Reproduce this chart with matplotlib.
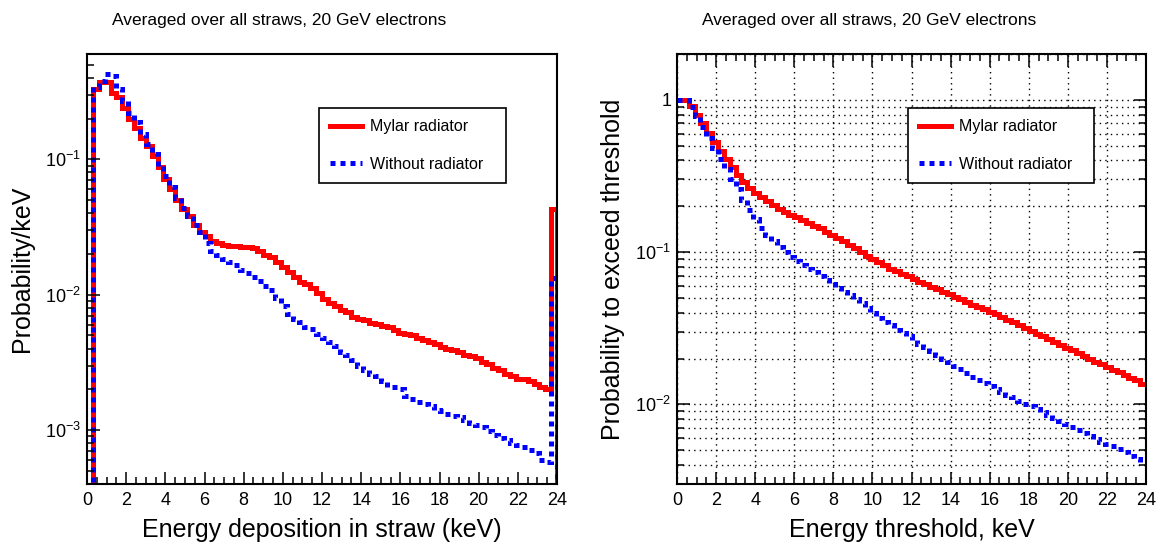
import numpy as np
import matplotlib.pyplot as plt
from matplotlib.lines import Line2D
from matplotlib.ticker import MultipleLocator, LogLocator, FuncFormatter, NullFormatter

plt.rcParams['font.family'] = ['Liberation Sans', 'DejaVu Sans']
plt.rcParams['mathtext.fontset'] = 'custom'
plt.rcParams['mathtext.rm'] = 'Liberation Sans'
plt.rcParams['mathtext.default'] = 'regular'

# histogram binning: 80 bins of 0.3 keV from 0 to 24 keV
bin_width = 0.3
n_bins = 80
edges = np.arange(n_bins + 1) * bin_width

# left panel: energy deposition spectrum (probability/keV)
mylar_spectrum = [
    3e-4, 0.33, 0.37, 0.37, 0.31, 0.29, 0.24, 0.20, 0.17, 0.145,
    0.125, 0.105, 0.088, 0.072, 0.060, 0.050, 0.043, 0.038, 0.033, 0.029,
    0.027, 0.025, 0.024, 0.0235, 0.023, 0.0228, 0.0227, 0.0225, 0.022, 0.021,
    0.0198, 0.019, 0.0175, 0.016, 0.0148, 0.0135, 0.0125, 0.012, 0.0112, 0.0103,
    0.0093, 0.0087, 0.0083, 0.0077, 0.0075, 0.0069, 0.0066, 0.0065, 0.0062, 0.0061,
    0.0059, 0.0058, 0.0055, 0.0052, 0.0051, 0.0050, 0.0048, 0.0046, 0.0045, 0.0043,
    0.0041, 0.0040, 0.0039, 0.0038, 0.0036, 0.0035, 0.0034, 0.0032, 0.0031, 0.0029,
    0.0028, 0.0026, 0.0025, 0.0024, 0.0024, 0.0023, 0.0022, 0.0021, 0.0020, 0.043,
]
norad_spectrum = [
    3e-4, 0.34, 0.38, 0.43, 0.41, 0.33, 0.27, 0.22, 0.19, 0.155,
    0.13, 0.11, 0.09, 0.075, 0.062, 0.052, 0.044, 0.038, 0.033, 0.029,
    0.024, 0.021, 0.0195, 0.0183, 0.0175, 0.0165, 0.0152, 0.0145, 0.0135, 0.0126,
    0.0117, 0.0108, 0.0095, 0.0082, 0.0072, 0.0066, 0.0063, 0.0058, 0.0056, 0.0051,
    0.0048, 0.0045, 0.0042, 0.0038, 0.0036, 0.0033, 0.0030, 0.0028, 0.0026, 0.0025,
    0.0023, 0.0021, 0.0021, 0.0020, 0.0018, 0.0017, 0.0016, 0.00155, 0.0015, 0.0014,
    0.00138, 0.00132, 0.00128, 0.00125, 0.00118, 0.00113, 0.0011, 0.00105, 0.00098, 0.00092,
    0.00087, 0.00085, 0.00080, 0.00078, 0.00075, 0.00071, 0.00068, 0.00060, 0.00058, 0.0133,
]

# right panel: probability to exceed threshold
mylar_exceed = [
    1.0, 1.0, 0.91, 0.80, 0.70, 0.61, 0.53, 0.46, 0.41, 0.36,
    0.32, 0.29, 0.265, 0.245, 0.23, 0.215, 0.203, 0.193, 0.184, 0.176,
    0.169, 0.162, 0.155, 0.149, 0.143, 0.136, 0.13, 0.124, 0.118, 0.112,
    0.106, 0.100, 0.095, 0.090, 0.086, 0.082, 0.078, 0.075, 0.072, 0.070,
    0.067, 0.064, 0.062, 0.059, 0.057, 0.055, 0.053, 0.051, 0.049, 0.047,
    0.045, 0.0435, 0.042, 0.0405, 0.039, 0.0375, 0.036, 0.0345, 0.033, 0.0317,
    0.0304, 0.0292, 0.028, 0.0268, 0.0257, 0.0246, 0.0236, 0.0226, 0.0217, 0.0208,
    0.0199, 0.0191, 0.0183, 0.0176, 0.0169, 0.0162, 0.0156, 0.0150, 0.0144, 0.0137,
]
norad_exceed = [
    1.0, 1.0, 0.90, 0.78, 0.66, 0.56, 0.48, 0.41, 0.35, 0.30,
    0.26, 0.22, 0.19, 0.165, 0.145, 0.13, 0.118, 0.108, 0.100, 0.093,
    0.087, 0.082, 0.078, 0.074, 0.070, 0.066, 0.062, 0.058, 0.055, 0.052,
    0.049, 0.046, 0.043, 0.040, 0.037, 0.035, 0.033, 0.031, 0.0295, 0.028,
    0.0265, 0.025, 0.0237, 0.0224, 0.0212, 0.020, 0.019, 0.018, 0.017, 0.016,
    0.0152, 0.0145, 0.0139, 0.0132, 0.0126, 0.0121, 0.0116, 0.0111, 0.0106, 0.0101,
    0.0097, 0.0093, 0.0089, 0.0085, 0.0081, 0.0078, 0.0074, 0.0071, 0.0068, 0.0065,
    0.0062, 0.0059, 0.0057, 0.0055, 0.0053, 0.0051, 0.0049, 0.0046, 0.0044, 0.0042,
]

labels = ['Mylar radiator', 'Without radiator']
title = 'Averaged over all straws, 20 GeV electrons'

W, H = 1162, 545
fig = plt.figure(figsize=(W / 100, H / 100), dpi=100)

ax1 = fig.add_axes([87 / W, 1 - 484 / H, 470 / W, 430 / H])
ax2 = fig.add_axes([677 / W, 1 - 484 / H, 469 / W, 430 / H])

lw = 3.6
dash = (0, (1, 1))

ax1.stairs(mylar_spectrum, edges, baseline=1e-6, color='red', lw=lw)
ax1.stairs(norad_spectrum, edges, baseline=1e-6, color='blue', lw=lw, linestyle=dash)

ax2.stairs(mylar_exceed, edges, baseline=None, color='red', lw=lw)
ax2.stairs(norad_exceed, edges, baseline=None, color='blue', lw=lw, linestyle=dash)


def log_fmt(v, pos):
    if abs(v - 1) < 1e-9:
        return '1'
    return r'$10^{%d}$' % round(np.log10(v))


for ax in (ax1, ax2):
    ax.set_yscale('log')
    ax.set_xlim(0, 24)
    ax.xaxis.set_major_locator(MultipleLocator(2))
    ax.xaxis.set_minor_locator(MultipleLocator(0.5))
    ax.yaxis.set_major_locator(LogLocator(base=10))
    ax.yaxis.set_minor_locator(LogLocator(base=10, subs=np.arange(2, 10)))
    ax.yaxis.set_major_formatter(FuncFormatter(log_fmt))
    ax.yaxis.set_minor_formatter(NullFormatter())
    ax.tick_params(which='both', direction='in', width=1.1, labelsize=13)
    ax.tick_params(which='major', length=9)
    ax.tick_params(which='minor', length=4.8)
    ax.tick_params(axis='x', pad=5.5)
    ax.tick_params(axis='y', pad=4)
    for sp in ax.spines.values():
        sp.set_linewidth(1.5)

ax1.set_ylim(4e-4, 0.6)
ax1.tick_params(which='both', top=False, right=False)

ax2.set_ylim(3e-3, 2.0)
ax2.tick_params(which='both', top=True, right=True)
ax2.set_axisbelow(True)
ax2.grid(True, which='major', axis='x', color='black', lw=1.0, linestyle=(0, (1, 3)))
ax2.grid(True, which='both', axis='y', color='black', lw=1.0, linestyle=(0, (1, 3)))

handles = [Line2D([], [], color='red', lw=lw),
           Line2D([], [], color='blue', lw=lw, linestyle=dash)]
for ax, x0 in ((ax1, 0.494), (ax2, 0.4925)):
    leg = ax.legend(handles, labels, loc='upper left',
                    bbox_to_anchor=(x0, 0.679, 0.397, 0.195), mode='expand',
                    borderaxespad=0, fontsize=11.5, handlelength=2.0,
                    handletextpad=0.5, labelspacing=1.4, borderpad=0.7,
                    fancybox=False, framealpha=1, edgecolor='black')
    leg.get_frame().set_linewidth(1.2)

# titles and axis labels
fig.text(112 / W, 1 - 20 / H, title, fontsize=12.5, ha='left', va='center')
fig.text(702 / W, 1 - 20 / H, title, fontsize=12.5, ha='left', va='center')
fig.text(322 / W, 1 - 530 / H, 'Energy deposition in straw (keV)', fontsize=18,
         ha='center', va='center')
fig.text(911.5 / W, 1 - 530 / H, 'Energy threshold, keV', fontsize=18,
         ha='center', va='center')
fig.text(22 / W, 1 - 269 / H, 'Probability/keV', fontsize=18, rotation=90,
         ha='center', va='center')
fig.text(613 / W, 1 - 269 / H, 'Probability to exceed threshold', fontsize=18,
         rotation=90, ha='center', va='center')

fig.savefig('out.png', dpi=100)
